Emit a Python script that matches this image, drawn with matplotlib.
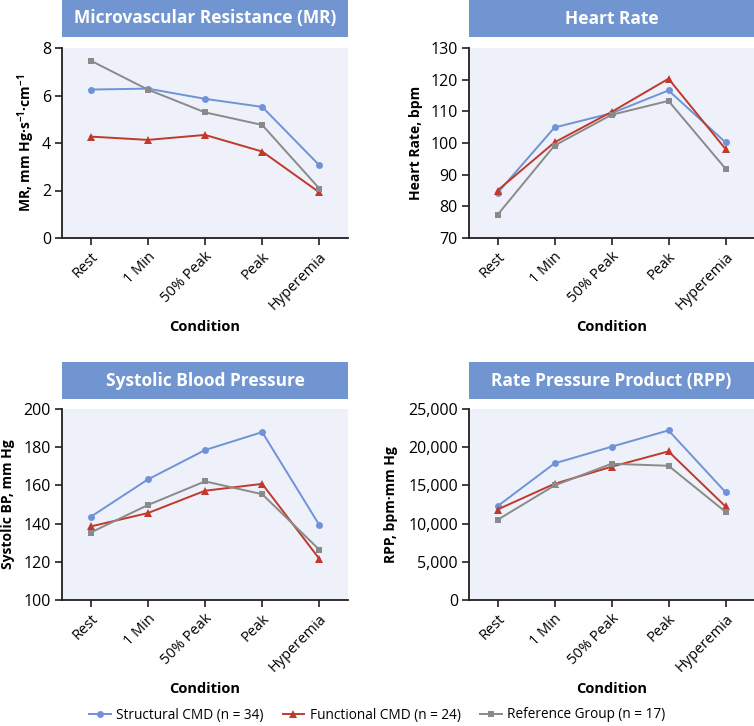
import matplotlib
matplotlib.use("Agg")
import matplotlib.pyplot as plt
from matplotlib.patches import Rectangle

plt.rcParams['font.family'] = ['Open Sans', 'DejaVu Sans']
plt.rcParams['mathtext.fontset'] = 'custom'
plt.rcParams['mathtext.rm'] = 'Open Sans:bold'
plt.rcParams['mathtext.bf'] = 'Open Sans:bold'

conditions = ["Rest", "1 Min", "50% Peak", "Peak", "Hyperemia"]
group_names = ["Structural CMD (n = 34)", "Functional CMD (n = 24)", "Reference Group (n = 17)"]

# MR, mm Hg·s-1·cm-1
mr_structural = [6.25, 6.29, 5.86, 5.52, 3.06]
mr_functional = [4.27, 4.13, 4.34, 3.64, 1.92]
mr_reference = [7.47, 6.25, 5.29, 4.76, 2.08]

# heart rate, bpm
hr_structural = [84.2, 104.9, 109.4, 116.6, 100.2]
hr_functional = [85.0, 100.2, 109.8, 120.3, 98.1]
hr_reference = [77.3, 99.2, 108.9, 113.3, 91.9]

# systolic BP, mm Hg
sbp_structural = [143.5, 163.1, 178.5, 187.9, 139.2]
sbp_functional = [138.5, 145.5, 157.2, 160.8, 121.5]
sbp_reference = [135.3, 149.7, 162.1, 155.4, 126.3]

# RPP, bpm·mm Hg
rpp_structural = [12280, 17880, 20060, 22200, 14120]
rpp_functional = [11840, 15210, 17440, 19450, 12240]
rpp_reference = [10490, 14990, 17830, 17570, 11540]

colors = ["#6f93d6", "#c0392b", "#8a8a8a"]
markers = ["o", "^", "s"]
box_color = "#7195d0"
bg_color = "#eef1f9"

panels = [
    ("Microvascular Resistance (MR)", r"MR, mm Hg·s$^{\mathbf{-1}}$·cm$^{\mathbf{-1}}$",
     [mr_structural, mr_functional, mr_reference], (0, 8), [0, 2, 4, 6, 8], None),
    ("Heart Rate", "Heart Rate, bpm",
     [hr_structural, hr_functional, hr_reference], (70, 130), [70, 80, 90, 100, 110, 120, 130], None),
    ("Systolic Blood Pressure", "Systolic BP, mm Hg",
     [sbp_structural, sbp_functional, sbp_reference], (100, 200), [100, 120, 140, 160, 180, 200], None),
    ("Rate Pressure Product (RPP)", "RPP, bpm·mm Hg",
     [rpp_structural, rpp_functional, rpp_reference], (0, 25000), [0, 5000, 10000, 15000, 20000, 25000], "comma"),
]

W, H = 754, 726
fig = plt.figure(figsize=(W / 100, H / 100), dpi=100)

# pixel boxes: (left, right, axes_top, axes_bottom, title_top, title_bottom, ylabel_x)
layout = [
    (62, 348, 48, 238, 0, 37, -0.087),
    (469, 754, 48, 238, 0, 37, -0.161),
    (62, 348, 409, 600, 362, 399, -0.164),
    (469, 754, 409, 600, 362, 399, -0.249),
]

lines = []
for (title, ylabel, series, ylim, yticks, fmt), (l, r, t, b, tt, tb, ylx) in zip(panels, layout):
    ax = fig.add_axes([l / W, 1 - b / H, (r - l) / W, (b - t) / H])
    ax.set_facecolor(bg_color)
    x = range(len(conditions))
    lines = []
    for vals, c, m in zip(series, colors, markers):
        ln, = ax.plot(x, vals, color=c, marker=m, markersize=5 if m != "^" else 5.5,
                      linewidth=1.4, markeredgewidth=0)
        lines.append(ln)
    ax.set_xlim(-0.5, 4.5)
    ax.set_ylim(*ylim)
    ax.set_yticks(yticks)
    if fmt == "comma":
        ax.set_yticklabels([f"{v:,}" for v in yticks])
    ax.set_xticks(list(x))
    ax.set_xticklabels(conditions, rotation=45, ha="right", rotation_mode="anchor")
    for s in ["top", "right"]:
        ax.spines[s].set_visible(False)
    for s in ["left", "bottom"]:
        ax.spines[s].set_linewidth(1.3)
        ax.spines[s].set_color("#231f20")
    ax.tick_params(axis="both", length=5, width=1.2, color="#231f20", labelsize=11.5, pad=3)
    ax.tick_params(axis="x", labelsize=10.5)
    ax.set_ylabel(ylabel, fontsize=10, fontweight="bold")
    ax.yaxis.set_label_coords(ylx, 0.5)

    # title box
    fig.patches.append(Rectangle((l / W, 1 - tb / H), (r - l) / W, (tb - tt) / H,
                                 transform=fig.transFigure, facecolor=box_color,
                                 edgecolor="none"))
    fig.text((l + r) / 2 / W, 1 - (tt + tb) / 2 / H, title, color="white",
             fontsize=12.5, fontweight="bold", ha="center", va="center")
    fig.text((l + r) / 2 / W, 1 - (b + 89) / H, "Condition", fontsize=10.5,
             fontweight="bold", ha="center", va="center")

fig.legend(lines, group_names, loc="center", bbox_to_anchor=(0.5, 1 - 715 / H),
           ncol=3, frameon=False, fontsize=9.8, handlelength=1.6,
           columnspacing=1.4, handletextpad=0.4)

fig.savefig("out.png", dpi=100)
